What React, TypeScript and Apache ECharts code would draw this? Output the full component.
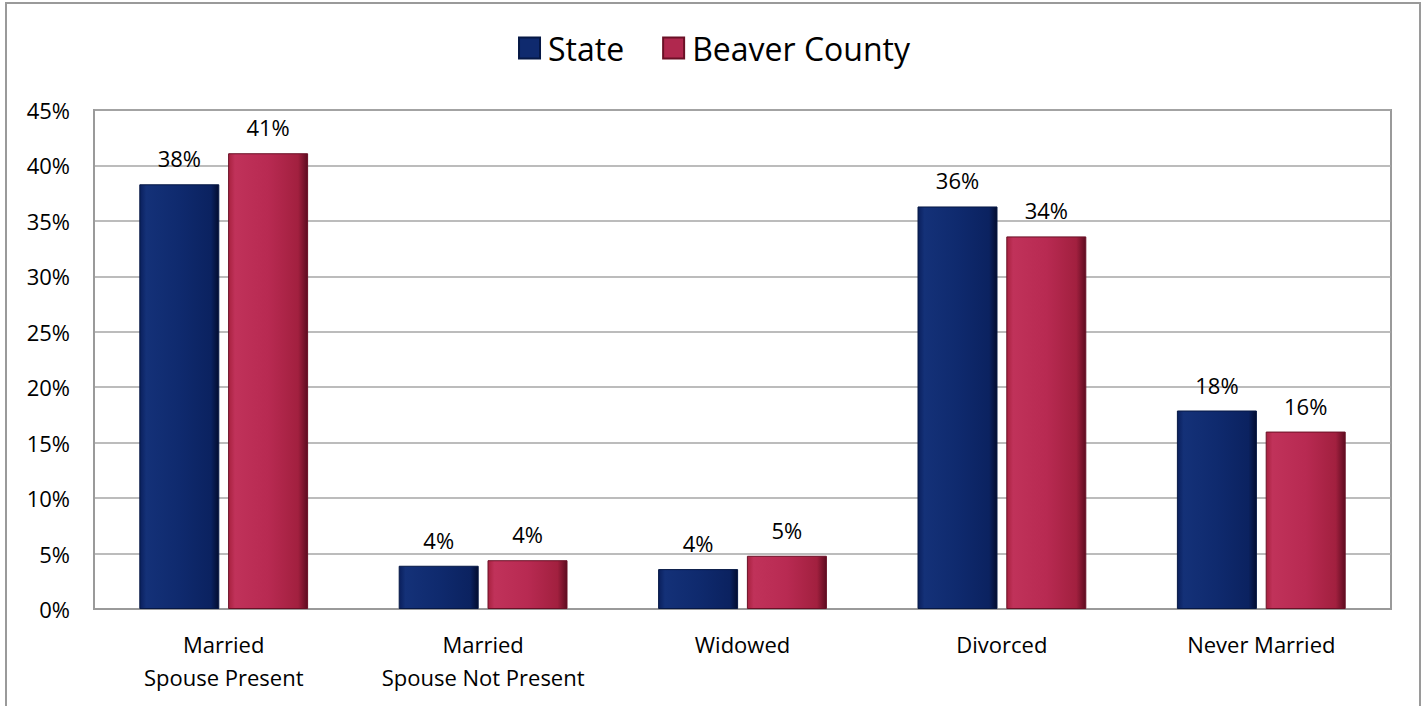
import React, { useEffect, useRef } from "react";
import * as echarts from "echarts";

const categories = ["Married\nSpouse Present", "Married\nSpouse Not Present", "Widowed", "Divorced", "Never Married"];
const stateValues = [38.3, 3.9, 3.6, 36.3, 17.9];
const countyValues = [41.1, 4.4, 4.8, 33.6, 16.0];
const yTicks = [0, 5, 10, 15, 20, 25, 30, 35, 40, 45];

const FONT = "'Open Sans', sans-serif";

const navyGrad = new echarts.graphic.LinearGradient(0, 0, 1, 0, [
  { offset: 0, color: "#0a1f5c" },
  { offset: 0.08, color: "#143178" },
  { offset: 0.5, color: "#0f2a6e" },
  { offset: 0.9, color: "#0b2260" },
  { offset: 1, color: "#030d30" },
]);
const redGrad = new echarts.graphic.LinearGradient(0, 0, 1, 0, [
  { offset: 0, color: "#a8213f" },
  { offset: 0.08, color: "#c0325a" },
  { offset: 0.5, color: "#b82a52" },
  { offset: 0.88, color: "#a2203f" },
  { offset: 1, color: "#5e0c20" },
]);

export default function App() {
  const ref = useRef<HTMLDivElement>(null);
  useEffect(() => {
    const chart = echarts.init(ref.current!, null, { renderer: "svg" });
    chart.setOption({
      animation: false,
      backgroundColor: "#ffffff",
      textStyle: { fontFamily: FONT },
      graphic: [
        {
          type: "rect",
          shape: { x: 6, y: 3, width: 1414, height: 720 },
          style: { fill: "none", stroke: "#9a9a9a", lineWidth: 2 },
          silent: true,
        },
      ],
      legend: {
        top: 27,
        left: "center",
        icon: "rect",
        itemWidth: 21,
        itemHeight: 21,
        itemGap: 38,
        textStyle: { fontSize: 32, color: "#000", fontFamily: FONT, padding: [0, 0, 0, 3] },
        data: [
          { name: "State", itemStyle: { color: "#0f2a6e" } },
          { name: "Beaver County", itemStyle: { color: "#b0284e" } },
        ],
      },
      grid: {
        left: 94,
        right: 37,
        top: 110,
        bottom: 97,
        show: true,
        borderColor: "#9a9a9a",
        borderWidth: 2,
      },
      xAxis: {
        type: "category",
        data: categories,
        axisTick: { show: false },
        axisLine: { show: true, lineStyle: { color: "#9a9a9a", width: 2 } },
        axisLabel: {
          interval: 0,
          hideOverlap: false,
          fontSize: 22,
          color: "#000",
          margin: 18,
          lineHeight: 33,
          fontFamily: FONT,
        },
      },
      yAxis: {
        type: "value",
        min: 0,
        max: 45,
        interval: 5,
        axisLine: { show: true, lineStyle: { color: "#9a9a9a", width: 2 } },
        axisTick: { show: false },
        splitLine: { lineStyle: { color: "#a6a6a6", width: 1.5 } },
        axisLabel: {
          fontSize: 22,
          color: "#000",
          margin: 24,
          fontFamily: FONT,
          formatter: (v: number) => (yTicks.includes(v) ? v + "%" : ""),
        },
      },
      series: [
        {
          name: "State",
          type: "bar",
          data: stateValues,
          barWidth: 80,
          barGap: "11%",
          itemStyle: { color: navyGrad, borderColor: "#061845", borderWidth: 1 },
          label: {
            show: true,
            position: "top",
            distance: 15,
            fontSize: 22,
            color: "#000",
            fontFamily: FONT,
            formatter: (p: any) => Math.round(p.value) + "%",
          },
        },
        {
          name: "Beaver County",
          type: "bar",
          data: countyValues,
          barWidth: 80,
          itemStyle: { color: redGrad, borderColor: "#6a1026", borderWidth: 1 },
          label: {
            show: true,
            position: "top",
            distance: 15,
            fontSize: 22,
            color: "#000",
            fontFamily: FONT,
            formatter: (p: any) => Math.round(p.value) + "%",
          },
        },
      ],
    });
    return () => chart.dispose();
  }, []);
  return (
    <div
      ref={ref}
      style={{ position: "fixed", left: 0, top: 0, width: 1428, height: 706 }}
    />
  );
}
